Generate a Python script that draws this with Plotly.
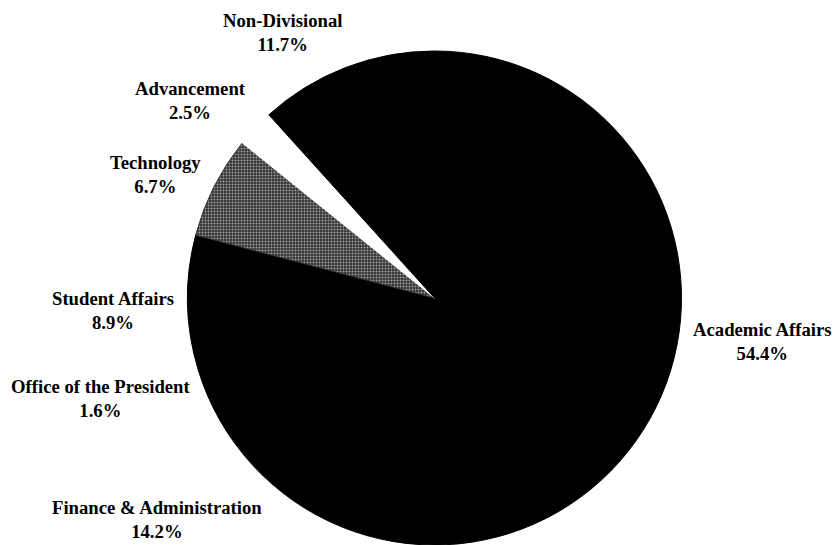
import plotly.graph_objects as go

# Data (clockwise from 12 o'clock)
labels = ["Academic Affairs", "Finance & Administration", "Office of the President",
          "Student Affairs", "Technology", "Advancement", "Non-Divisional"]
values = [54.4, 14.2, 1.6, 8.9, 6.7, 2.5, 11.7]
colors = ["#000000", "#000000", "#000000", "#000000", "#333333", "#ffffff", "#000000"]

# Label placement (pixel positions, styling only)
label_pos = {
    "Academic Affairs": (762, 341),
    "Finance & Administration": (157, 519),
    "Office of the President": (100, 398),
    "Student Affairs": (113, 310),
    "Technology": (155, 174),
    "Advancement": (190, 100),
    "Non-Divisional": (282, 33),
}

W, H = 834, 545
cx, cy, r = 434.5, 298, 247

fig = go.Figure()
fig.add_trace(go.Pie(
    labels=labels,
    values=values,
    sort=False,
    direction="clockwise",
    rotation=0,
    textinfo="none",
    hoverinfo="skip",
    showlegend=False,
    marker=dict(
        colors=colors,
        line=dict(width=1, color=colors),
        pattern=dict(
            shape=["", "", "", "", ".", "", ""],
            fgcolor=["#000", "#000", "#000", "#000", "#a0a0a0", "#fff", "#000"],
            bgcolor=colors,
            size=3,
            solidity=0.35,
        ),
    ),
    domain=dict(x=[(cx - r) / W, (cx + r) / W], y=[(H - cy - r) / H, (H - cy + r) / H]),
))

for lab, val in zip(labels, values):
    px, py = label_pos[lab]
    fig.add_annotation(
        x=px / W, y=1 - py / H, xref="paper", yref="paper",
        text=f"<b>{lab}<br>{val:.1f}%</b>",
        showarrow=False, xanchor="center", yanchor="middle",
        font=dict(family="Liberation Serif", size=18.7, color="#000"),
    )

fig.update_layout(
    width=W, height=H,
    margin=dict(l=0, r=0, t=0, b=0),
    paper_bgcolor="white", plot_bgcolor="white",
)

fig.write_html("out.html")
